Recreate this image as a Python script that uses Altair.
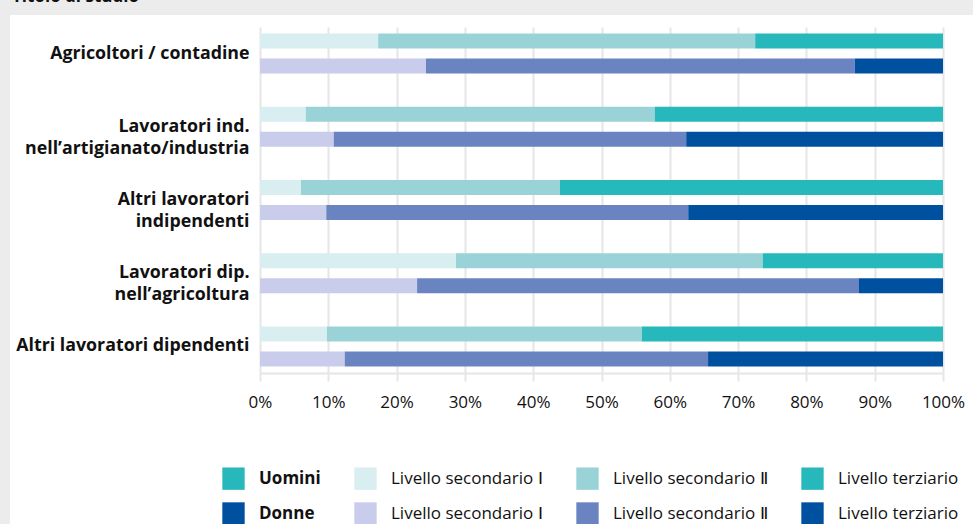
import altair as alt
import pandas as pd

categories = [
    "Agricoltori / contadine",
    "Lavoratori ind.|nell’artigianato/industria",
    "Altri lavoratori|indipendenti",
    "Lavoratori dip.|nell’agricoltura",
    "Altri lavoratori dipendenti",
]
sexes = ["Uomini", "Donne"]
# shares (%) by level: secondario I, secondario II, terziario
uomini_sec1 = [17.3, 6.7, 6.0, 28.7, 9.8]
uomini_sec2 = [55.2, 51.1, 37.9, 44.9, 46.1]
uomini_ter = [27.5, 42.2, 56.1, 26.4, 44.1]
donne_sec1 = [24.3, 10.8, 9.7, 23.0, 12.4]
donne_sec2 = [62.8, 51.6, 53.0, 64.7, 53.2]
donne_ter = [12.9, 37.6, 37.3, 12.3, 34.4]

ticks = [0, 10, 20, 30, 40, 50, 60, 70, 80, 90, 100]
legend_keys = ["Uomini", "U1", "U2", "U3", "Donne", "D1", "D2", "D3"]
legend_colors = ["#27b8bc", "#d9eef0", "#99d3d7", "#27b8bc",
                 "#0050a0", "#c9cdeb", "#6a84c2", "#0050a0"]

rows = []
for i, c in enumerate(categories):
    for lvl, (u, d) in enumerate(zip([uomini_sec1, uomini_sec2, uomini_ter],
                                      [donne_sec1, donne_sec2, donne_ter])):
        rows.append({"cat": c, "sex": "Uomini", "key": f"U{lvl+1}", "lvl": lvl, "value": u[i]})
        rows.append({"cat": c, "sex": "Donne", "key": f"D{lvl+1}", "lvl": lvl, "value": d[i]})
df = pd.DataFrame(rows)

FONT = "Open Sans"
W, H = 683, 346

label_expr = ("datum.label == 'U1' || datum.label == 'D1' ? 'Livello secondario Ⅰ' : "
              "datum.label == 'U2' || datum.label == 'D2' ? 'Livello secondario Ⅱ' : "
              "datum.label == 'U3' || datum.label == 'D3' ? 'Livello terziario' : datum.label")

bars = alt.Chart(df).mark_bar().encode(
    y=alt.Y("cat:N", sort=categories, title=None,
            scale=alt.Scale(paddingInner=0.456, paddingOuter=0.09),
            axis=alt.Axis(labelExpr="split(datum.label, '|')", labelFontSize=17.8,
                          labelFontWeight="bold", labelColor="#111111", labelFont=FONT,
                          ticks=False, domain=False, labelPadding=11, labelLimit=400,
                          labelLineHeight=22, grid=False)),
    yOffset=alt.YOffset("sex:N", sort=sexes,
                        scale=alt.Scale(paddingInner=0.4, paddingOuter=0)),
    x=alt.X("value:Q", stack="zero", title=None,
            scale=alt.Scale(domain=[0, 100], nice=False),
            axis=alt.Axis(values=ticks, labelExpr="datum.value + '%'", labelFontSize=17,
                          labelFont=FONT, labelColor="#111111", grid=True, labelFlush=False,
                          gridColor="#e6e6e6", gridWidth=2, domainColor="#e6e6e6",
                          domainWidth=2, tickColor="#e6e6e6", tickWidth=2, tickSize=8,
                          labelPadding=13)),
    order=alt.Order("lvl:Q"),
    color=alt.Color("key:N", scale=alt.Scale(domain=legend_keys, range=legend_colors),
                    legend=alt.Legend(orient="none", legendX=-38, legendY=440, columns=4,
                                      direction="horizontal", title=None,
                                      symbolType="square", symbolSize=500,
                                      symbolStrokeWidth=0, labelFontSize=17, labelFont=FONT,
                                      labelColor="#111111", labelLimit=400, labelOffset=14,
                                      columnPadding=33, rowPadding=12, labelExpr=label_expr,
                                      labelFontWeight=alt.ExprRef(
                                          "datum.value == 'Uomini' || datum.value == 'Donne' ? 'bold' : 'normal'"))),
)

bg = pd.DataFrame({"a": [0]})
gray_top = alt.Chart(bg).mark_rect(color="#ececec").encode(
    x=alt.value(-260), x2=alt.value(W + 30), y=alt.value(-27), y2=alt.value(-12))
gray_left = alt.Chart(bg).mark_rect(color="#ececec").encode(
    x=alt.value(-260), x2=alt.value(-250), y=alt.value(-27), y2=alt.value(H + 160))
title = alt.Chart(pd.DataFrame({"t": ["Titolo di studio"]})).mark_text(
    align="left", baseline="alphabetic", fontSize=17, fontWeight="bold", font=FONT,
    color="#111111").encode(x=alt.value(-248), y=alt.value(-25), text="t:N")

chart = alt.layer(gray_top, gray_left, title, bars).properties(
    width=W, height=H,
    autosize=alt.AutoSizeParams(type="none"),
    padding={"left": 260, "top": 27, "right": 30, "bottom": 151},
).configure(background="white").configure_view(stroke=None)

chart.save("out.html", embed_options={"renderer": "svg", "actions": False})
